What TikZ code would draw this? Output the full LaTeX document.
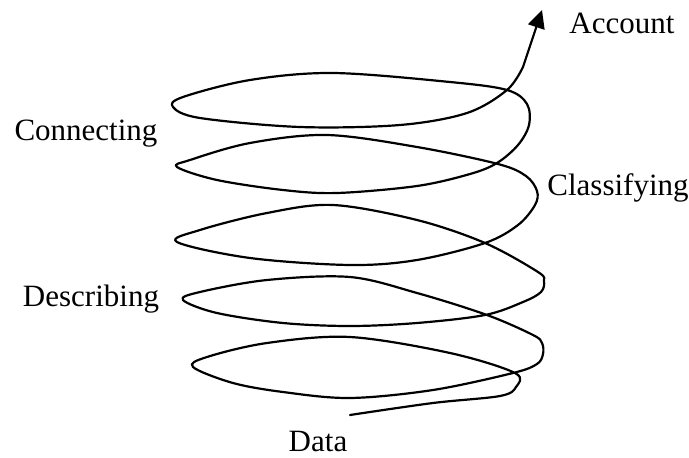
\documentclass[tikz,border=0pt]{standalone}
\usepackage{fontspec}
\setmainfont{Liberation Serif}
\usetikzlibrary{arrows.meta}
\tikzset{
  every picture/.style={font=\fontsize{31}{34}\selectfont},
  spiral line/.style={draw=black, line width=2.2pt, line cap=round, line join=round},
  spiral tip/.style={-{Triangle[length=18pt,width=17pt]}},
  stage label/.style={inner sep=0pt}
}

\begin{document}
\begin{tikzpicture}[x=1pt,y=-1pt]
  \useasboundingbox (0,0) rectangle (689,458);
  % labels
  \node[stage label] (account) at (622,23) {Account};
  \node[stage label] (connecting) at (86,134) {Connecting};
  \node[stage label] (classifying) at (618,188) {Classifying};
  \node[stage label] (describing) at (91,299) {Describing};
  \node[stage label] (data) at (318,441) {Data};
  \coordinate (spiral start) at (350,415);
  \coordinate (spiral end) at (542,10);
  % the spiral, from the bottom loop up
  \draw[spiral line,spiral tip] plot[smooth,tension=0.55] coordinates {
    (spiral start) (433,403) (500,396) (516,387) (515,373)
    (450,353) (350,337) (267,343) (207,357) (193,367)
    (233,383) (283,392) (350,398) (433,390) (513,373)
    (537,364) (543,354) (542,343) (533,335) (487,315)
    (417,293) (350,277) (267,280) (200,292) (183,300)
    (217,313) (283,323) (350,326) (417,323) (485,315)
    (523,302) (541,292) (544,281) (538,272) (485,243)
    (417,220) (333,205) (267,213) (200,230) (177,242)
    (250,258) (350,265) (417,260) (485,243)
    (518,225) (535,205) (537,191) (526,176) (498,164)
    (417,147) (327,135) (250,143) (190,160) (177,167)
    (217,180) (283,190) (337,193) (417,186) (470,174) (497,163)
    (518,145) (529,125) (527,104) (507,90)
    (450,82) (333,73) (250,80) (183,97) (173,107)
    (200,118) (300,127) (400,125) (467,113) (507,90)
    (523,67)} -- (spiral end);
\end{tikzpicture}
\end{document}
